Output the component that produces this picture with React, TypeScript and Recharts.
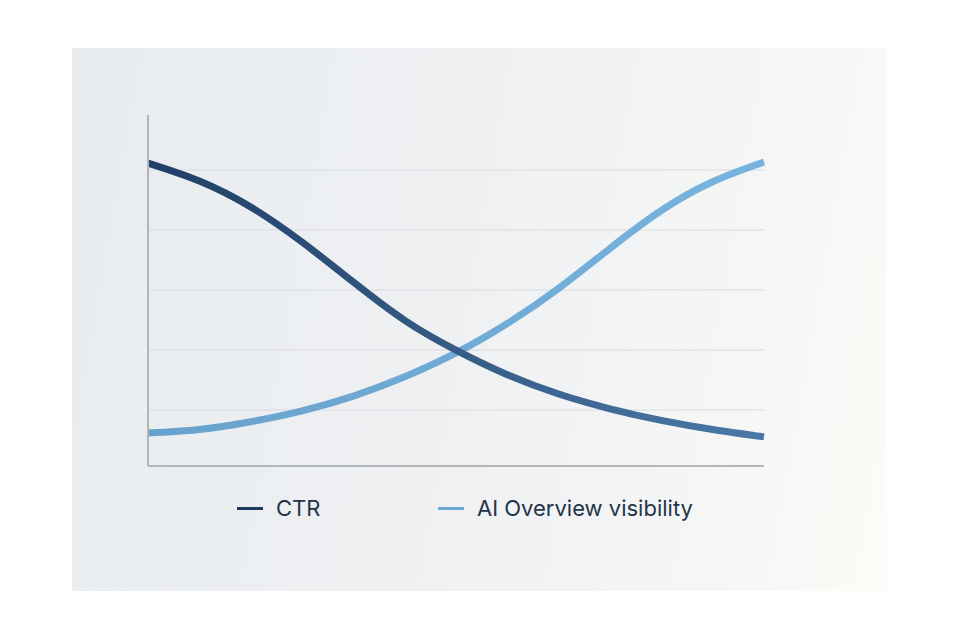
import { Line, LineChart, ReferenceLine, XAxis, YAxis } from "recharts"

// x positions (evenly spaced samples across the plot)
const steps = [0, 1, 2, 3, 4, 5, 6, 7, 8, 9, 10, 11, 12]
// CTR, falling
const ctr = [86.3, 81.2, 73.8, 63.8, 52.4, 41.5, 33.0, 26.0, 20.5, 16.3, 13.0, 10.4, 8.3]
// AI Overview visibility, rising
const aiVisibility = [9.4, 10.4, 12.6, 15.7, 19.9, 25.4, 32.2, 40.6, 50.6, 62.0, 72.8, 81.0, 86.6]
// horizontal grid lines
const gridTicks = [15.95, 33.05, 50.14, 67.24, 84.33]

const legendItems = [
  { label: "CTR", color: "#1f3a5e", left: 237 },
  { label: "AI Overview visibility", color: "#6aa8d6", left: 438 },
]

const data = steps.map((x, i) => ({ x, ctr: ctr[i], ai: aiVisibility[i] }))

function ChartLegend() {
  return (
    <div style={{ position: "absolute", left: 0, top: 492, width: 960, height: 32 }}>
      {legendItems.map((item) => (
        <div
          key={item.label}
          style={{
            position: "absolute",
            left: item.left,
            top: 0,
            display: "flex",
            alignItems: "center",
            height: 32,
          }}
        >
          <span style={{ display: "inline-block", width: 26, height: 3, background: item.color, marginRight: 13 }} />
          <span style={{ fontFamily: "Inter, sans-serif", fontSize: 22, color: "#23344a" }}>{item.label}</span>
        </div>
      ))}
    </div>
  )
}

export default function App() {
  return (
    <div style={{ position: "absolute", top: 0, left: 0, width: 960, height: 640, background: "#ffffff" }}>
      <div
        style={{
          position: "absolute",
          left: 72,
          top: 48,
          width: 815,
          height: 543,
          background: "linear-gradient(100deg, #e9ecef 0%, #eef0f2 45%, #f6f6f6 80%, #fcfbf7 100%)",
        }}
      />
      <div style={{ position: "absolute", left: 0, top: 0 }}>
        <LineChart width={960} height={640} data={data} margin={{ top: 115, right: 196, bottom: 173, left: 147 }}>
          <defs>
            <linearGradient id="ctrStroke" x1="0" y1="0" x2="1" y2="0">
              <stop offset="0%" stopColor="#203f66" />
              <stop offset="100%" stopColor="#4b79a7" />
            </linearGradient>
            <linearGradient id="aiStroke" x1="0" y1="0" x2="1" y2="0">
              <stop offset="0%" stopColor="#68a2cc" />
              <stop offset="100%" stopColor="#78b3df" />
            </linearGradient>
          </defs>
          <XAxis
            dataKey="x"
            type="number"
            domain={[0, 12]}
            ticks={steps}
            tick={false}
            tickLine={false}
            height={1}
            axisLine={{ stroke: "#b3b6b9", strokeWidth: 2 }}
          />
          <YAxis
            type="number"
            domain={[0, 100]}
            ticks={gridTicks}
            tick={false}
            tickLine={false}
            width={1}
            axisLine={{ stroke: "#b3b6b9", strokeWidth: 2 }}
          />
          {gridTicks.map((v) => (
            <ReferenceLine key={v} y={v} stroke="#d8dbde" strokeWidth={1} />
          ))}
          <Line
            type="natural"
            dataKey="ai"
            name="AI Overview visibility"
            stroke="url(#aiStroke)"
            strokeWidth={7}
            dot={false}
            isAnimationActive={false}
          />
          <Line
            type="natural"
            dataKey="ctr"
            name="CTR"
            stroke="url(#ctrStroke)"
            strokeWidth={7}
            dot={false}
            isAnimationActive={false}
          />
        </LineChart>
      </div>
      <ChartLegend />
    </div>
  )
}
